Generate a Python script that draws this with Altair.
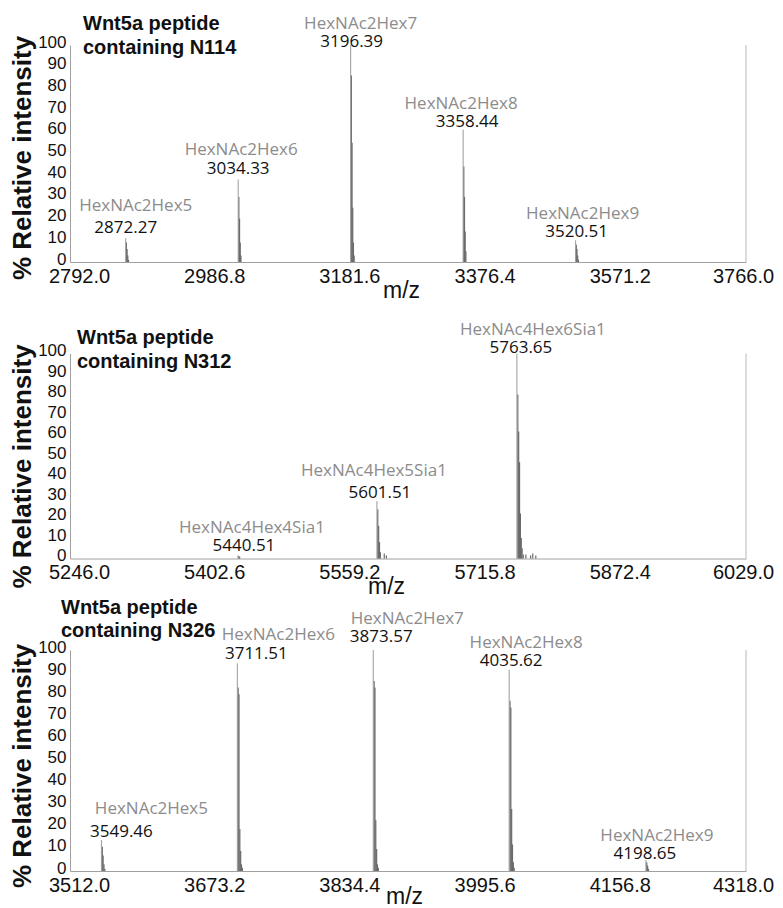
import altair as alt
import pandas as pd

# ---------------- data ----------------
y_ticks = [0, 10, 20, 30, 40, 50, 60, 70, 80, 90, 100]

# Panel 1 : Wnt5a peptide containing N114
p1_title = ["Wnt5a peptide", "containing N114"]
p1_domain = [2792.0, 3766.0]
p1_ticks = [2792.0, 2986.8, 3181.6, 3376.4, 3571.2, 3766.0]
p1_names = ["HexNAc2Hex5", "HexNAc2Hex6", "HexNAc2Hex7", "HexNAc2Hex8", "HexNAc2Hex9"]
p1_mz = [2872.27, 3034.33, 3196.39, 3358.44, 3520.51]
p1_int = [11, 38, 100, 61, 10]
p1_iso_mz = [2873.3, 2874.3, 2875.3, 2876.3,
             3035.3, 3036.3, 3037.3, 3038.3,
             3197.4, 3198.4, 3199.4, 3200.4, 3201.4,
             3359.4, 3360.4, 3361.4, 3362.4,
             3521.5, 3522.5, 3523.5, 3524.5]
p1_iso_int = [9, 6, 3, 1,
              30, 20, 9, 3,
              86, 55, 25, 9, 3,
              44, 30, 14, 5,
              8, 6, 3, 1]

# Panel 2 : Wnt5a peptide containing N312
p2_title = ["Wnt5a peptide", "containing N312"]
p2_domain = [5246.0, 6029.0]
p2_ticks = [5246.0, 5402.6, 5559.2, 5715.8, 5872.4, 6029.0]
p2_names = ["HexNAc4Hex4Sia1", "HexNAc4Hex5Sia1", "HexNAc4Hex6Sia1"]
p2_mz = [5440.51, 5601.51, 5763.65]
p2_int = [1.5, 28, 100]
p2_iso_mz = [5441.5, 5442.5,
             5602.5, 5603.5, 5604.5, 5605.5, 5610.0, 5612.5,
             5764.7, 5765.7, 5766.7, 5767.7, 5768.7, 5769.7, 5771.0,
             5774.0, 5779.5, 5782.0, 5785.5]
p2_iso_int = [1.2, 0.8,
              24, 16, 8, 3, 2.5, 1.5,
              80, 62, 47, 22, 10, 5, 2,
              2, 1.5, 2.5, 1.5]

# Panel 3 : Wnt5a peptide containing N326
p3_title = ["Wnt5a peptide", "containing N326"]
p3_domain = [3512.0, 4318.0]
p3_ticks = [3512.0, 3673.2, 3834.4, 3995.6, 4156.8, 4318.0]
p3_names = ["HexNAc2Hex5", "HexNAc2Hex6", "HexNAc2Hex7", "HexNAc2Hex8", "HexNAc2Hex9"]
p3_mz = [3549.46, 3711.51, 3873.57, 4035.62, 4198.65]
p3_int = [14, 94, 100, 91, 5]
p3_iso_mz = [3550.5, 3551.5, 3552.5, 3553.5,
             3712.5, 3713.5, 3714.5, 3715.5, 3716.5, 3717.5,
             3874.6, 3875.6, 3876.6, 3877.6, 3878.6, 3879.6,
             4036.6, 4037.6, 4038.6, 4039.6, 4040.6, 4041.6,
             4199.7, 4200.7, 4201.7]
p3_iso_int = [11, 7, 3, 1,
              83, 80, 19, 9, 3, 1.5,
              86, 83, 23, 10, 3, 1.5,
              77, 74, 28, 12, 4, 1.5,
              4, 2.5, 1]

# ---------------- layout / style ----------------
FONT = "Liberation Sans"
LBL_FONT = "Open Sans"
LBL_SIZE = 17
WIDTH = 676

# (dx, dy) pixel offsets of the peak annotations from the peak top
p1_num_off = [(0, -5), (0, -6), (1, 2), (4, -3), (1, -3)]
p1_name_off = [(10, -27), (3, -25), (10, -16), (-2, -21), (7, -21)]
p2_num_off = [(6, -4), (3, -3), (4, -1)]
p2_name_off = [(14, -22), (-3, -25), (16, -19)]
p3_num_off = [(20, -3), (19, -4), (8, -8), (2, -4), (-1, -1)]
p3_name_off = [(50, -26), (41, -23), (34, -26), (17, -22), (11, -19)]


def make_panel(names, mz, inten, iso_mz, iso_int, dom, ticks, height,
               num_off, name_off, title_lines, title_pos, ytitle_dy, xtitle_x, xtitle_y):
    peaks = pd.DataFrame({"mz": mz, "inten": inten, "base": [0] * len(mz), "name": names,
                          "num": [f"{v:.2f}" for v in mz]})
    iso = pd.DataFrame({"mz": iso_mz, "inten": iso_int, "base": [0] * len(iso_mz)})
    edge = pd.DataFrame({"mz": [dom[1]], "inten": [100], "base": [0]})

    x = alt.X("mz:Q",
              scale=alt.Scale(domain=dom, nice=False, zero=False),
              axis=alt.Axis(values=ticks, format=".1f", title="m/z",
                            titleFont=FONT, titleFontSize=23, titleFontWeight="normal",
                            titleColor="#111", titleX=xtitle_x, titleY=xtitle_y,
                            titleAlign="center", titleBaseline="alphabetic",
                            labelFont=FONT, labelFontSize=20, labelColor="#111",
                            labelBaseline="alphabetic", labelPadding=20,
                            labelFlush=False, labelOverlap=False,
                            labelOffset={"condition": {"test": f"datum.value >= {dom[1]}", "value": -3},
                                         "value": 9},
                            ticks=False, tickSize=0, grid=False,
                            domainColor="#a0a0a0", domainWidth=1))
    y = alt.Y("inten:Q",
              scale=alt.Scale(domain=[0, 100], nice=False),
              axis=alt.Axis(values=y_ticks, tickCount=11, title="% Relative intensity",
                            titleFont=FONT, titleFontSize=26, titleFontWeight="bold",
                            titleColor="#111", titleAngle=270, titleX=-40,
                            titleY=height / 2 + ytitle_dy, titleAlign="center",
                            titleBaseline="alphabetic",
                            labelFont="Liberation Sans Narrow, Liberation Sans",
                            labelFontSize=17, labelColor="#111", labelPadding=4,
                            labelOffset=-3,
                            labelOverlap=False, labelFlush=False,
                            ticks=False, tickSize=0, grid=False,
                            domainColor="#a0a0a0", domainWidth=1))
    y2 = alt.Y2("base:Q")

    layers = [
        alt.Chart(iso).mark_rule(color="#6a6a6a", strokeWidth=1.2).encode(x=x, y=y, y2=y2),
        alt.Chart(peaks).mark_rule(color="#9a9a9a", strokeWidth=1).encode(x=x, y=y, y2=y2),
        alt.Chart(edge).mark_rule(color="#b8b8b8", strokeWidth=1).encode(x=x, y=y, y2=y2),
    ]
    for i in range(len(mz)):
        row = peaks.iloc[[i]]
        layers.append(
            alt.Chart(row).mark_text(font=LBL_FONT, fontSize=LBL_SIZE, color="#111",
                                     align="center", baseline="alphabetic",
                                     dx=num_off[i][0], dy=num_off[i][1])
            .encode(x=x, y=y, text="num:N"))
        layers.append(
            alt.Chart(row).mark_text(font=LBL_FONT, fontSize=LBL_SIZE, color="#8c8c8c",
                                     align="center", baseline="alphabetic",
                                     dx=name_off[i][0], dy=name_off[i][1])
            .encode(x=x, y=y, text="name:N"))
    for j, line in enumerate(title_lines):
        layers.append(
            alt.Chart(edge).mark_text(text=line, font=FONT, fontSize=20, fontWeight="bold",
                                      color="#111", align="left", baseline="alphabetic")
            .encode(x=alt.value(title_pos[0]), y=alt.value(title_pos[1 + j])))
    return alt.layer(*layers).properties(width=WIDTH, height=height)


panel1 = make_panel(p1_names, p1_mz, p1_int, p1_iso_mz, p1_iso_int, p1_domain, p1_ticks, 217,
                    p1_num_off, p1_name_off, p1_title, (13, -15, 9), 4, 331, 35)
panel2 = make_panel(p2_names, p2_mz, p2_int, p2_iso_mz, p2_iso_int, p2_domain, p2_ticks, 205,
                    p2_num_off, p2_name_off, p2_title, (7, -10, 14), 10, 316, 35)
panel3 = make_panel(p3_names, p3_mz, p3_int, p3_iso_mz, p3_iso_int, p3_domain, p3_ticks, 221,
                    p3_num_off, p3_name_off, p3_title, (-9, -36, -13), 5, 334, 32)

chart = (
    alt.vconcat(panel1, panel2, panel3, spacing=91.5, bounds="flush")
    .properties(padding={"left": 0, "top": 6, "right": 0, "bottom": 0}, background="white")
    .configure(font=FONT)
    .configure_view(strokeWidth=0, stroke="transparent")
    .configure_axis(labelOverlap=False, grid=False)
)

chart.save("out.html", embed_options={"renderer": "svg", "actions": False})
